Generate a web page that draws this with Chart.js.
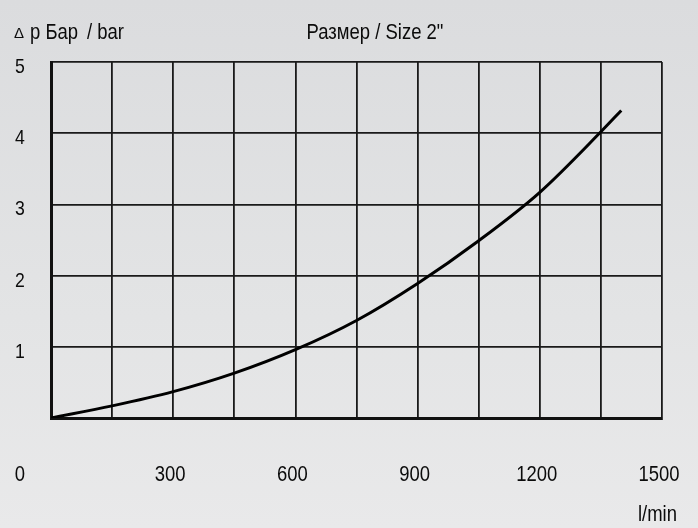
<!DOCTYPE html>
<html>
<head>
<meta charset="utf-8">
<script src="https://cdn.jsdelivr.net/npm/chart.js@4/dist/chart.umd.min.js"></script>
<style>
  html, body { margin: 0; padding: 0; }
  body {
    width: 698px; height: 528px; overflow: hidden;
    background: linear-gradient(to bottom, #dbdcde 0%, #e3e4e5 60%, #e9e9ea 100%);
  }
  canvas { display: block; }
</style>
</head>
<body>
<canvas id="c" width="698" height="528"></canvas>
<script>
// Flow rate (l/min) and pressure drop (bar) for a size 2" unit
const flow = [0, 150, 300, 450, 600, 750, 900, 1050, 1200, 1350, 1400];
const pressureDrop = [0, 0.17, 0.37, 0.63, 0.96, 1.37, 1.89, 2.49, 3.17, 4.02, 4.32];

// Labelled ticks
const xLabelTicks = [300, 600, 900, 1200, 1500];
const yLabelTicks = [1, 2, 3, 4, 5];

const FONT = '"Liberation Sans", Arial, sans-serif';
const NARROW = 0.84;          // horizontal squeeze for a condensed face
const INK = '#0b0b0b';
const GRID = '#1a1a1a';

// condensed text helper
function narrowText(ctx, str, x, y, align, size) {
  ctx.save();
  ctx.translate(x, y);
  ctx.scale(NARROW, 1);
  ctx.font = size + 'px ' + FONT;
  ctx.textAlign = align;
  ctx.textBaseline = 'alphabetic';
  ctx.fillText(str, 0, 0);
  ctx.restore();
}

// Tick labels, headings, origin label and unit label
const textPlugin = {
  id: 'labels',
  afterDraw(chart) {
    const ctx = chart.ctx;
    const a = chart.chartArea;
    const xs = chart.scales.x, ys = chart.scales.y;
    ctx.save();
    ctx.fillStyle = INK;

    // x tick labels, well below the axis
    const xBase = a.bottom + 63;
    xLabelTicks.forEach(v => narrowText(ctx, String(v), xs.getPixelForValue(v) - 3, xBase, 'center', 22));
    // origin label sits in the y label column
    narrowText(ctx, '0', a.left - 31, xBase, 'center', 22);

    // y tick labels, just under their grid lines
    yLabelTicks.forEach(v => narrowText(ctx, String(v), a.left - 31, ys.getPixelForValue(v) + 11, 'center', 21));

    // y axis heading
    ctx.font = '15px ' + FONT;
    ctx.textAlign = 'left';
    ctx.textBaseline = 'alphabetic';
    ctx.fillText('\u0394', 14, 38);
    narrowText(ctx, 'p \u0411\u0430\u0440', 30, 39, 'left', 22);
    narrowText(ctx, '/ bar', 87, 39, 'left', 22);

    // size heading
    narrowText(ctx, '\u0420\u0430\u0437\u043c\u0435\u0440 / Size 2"', 375, 39, 'center', 22);

    // unit label
    narrowText(ctx, 'l/min', a.right + 15, a.bottom + 103, 'right', 22);
    ctx.restore();
  }
};

new Chart(document.getElementById('c'), {
  type: 'line',
  data: {
    labels: flow,
    datasets: [{
      data: flow.map((v, i) => ({ x: v, y: pressureDrop[i] })),
      borderColor: '#000',
      borderWidth: 3,
      pointRadius: 0,
      fill: false,
      cubicInterpolationMode: 'monotone'
    }]
  },
  options: {
    responsive: false,
    devicePixelRatio: 1,
    animation: false,
    layout: { padding: { top: 62, right: 36, left: 0, bottom: 0 } },
    plugins: { legend: { display: false }, tooltip: { enabled: false } },
    scales: {
      x: {
        type: 'linear',
        min: 0, max: 1500,
        afterFit(s) { s.height = 110; s.paddingLeft = 0; s.paddingRight = 0; },
        grid: { color: GRID, lineWidth: 1.8, drawTicks: false },
        border: { color: '#111', width: 3 },
        ticks: { stepSize: 150, display: false }
      },
      y: {
        min: 0, max: 5,
        afterFit(s) { s.width = 51; s.paddingTop = 0; s.paddingBottom = 0; },
        grid: { color: GRID, lineWidth: 1.8, drawTicks: false },
        border: { color: '#111', width: 3 },
        ticks: { stepSize: 1, display: false }
      }
    }
  },
  plugins: [textPlugin]
});
</script>
</body>
</html>
